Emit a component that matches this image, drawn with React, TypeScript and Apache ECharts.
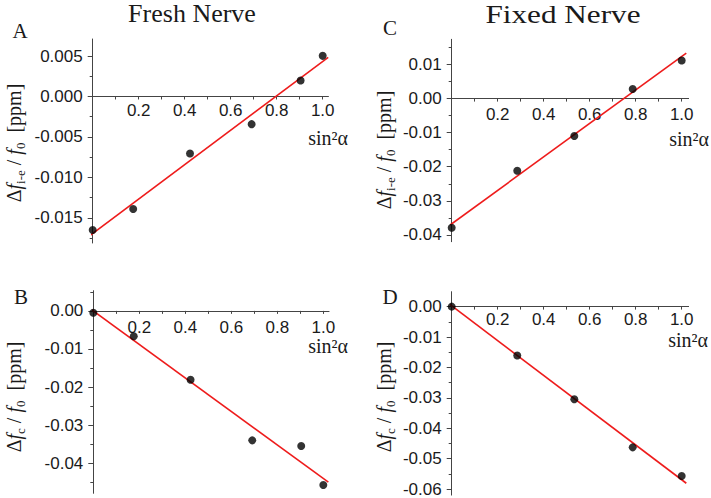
import React, { useEffect, useRef } from "react";
import * as echarts from "echarts";

// ---- data ----
const xFresh = [0, 0.176, 0.423, 0.691, 0.904, 1.0];
const yFreshIE = [-0.0165, -0.0139, -0.00704, -0.00342, 0.00198, 0.00502];
const yFreshC = [-0.0005, -0.00665, -0.0181, -0.034, -0.0355, -0.0457];
const xFixed = [0, 0.285, 0.533, 0.787, 1.0];
const yFixedIE = [-0.0379, -0.0212, -0.011, 0.0028, 0.0112];
const yFixedC = [0, -0.0161, -0.0305, -0.0463, -0.0557];

// fitted straight lines (end points)
const fitFreshIE = [[-0.023, -0.0174], [1.024, 0.00484]];
const fitFreshC = [[-0.026, 0.00114], [1.022, -0.04497]];
const fitFixedIE = [[-0.007, -0.0371], [1.02, 0.01335]];
const fitFixedC = [[-0.015, 0.0011], [1.02, -0.0581]];

const xTickValues = [0.1, 0.2, 0.3, 0.4, 0.5, 0.6, 0.7, 0.8, 0.9, 1.0];
const xLabelValues = [0.2, 0.4, 0.6, 0.8, 1.0];

const titles = ["Fresh Nerve", "Fixed Nerve"];
const letters = ["A", "B", "C", "D"];

const SERIF = "'Liberation Serif', 'Times New Roman', serif";
const SANS = "'Liberation Sans', Arial, sans-serif";

type Panel = {
  left: number; top: number; height: number; xMax: number;
  yMin: number; yMax: number; step: number; dec: number;
  xs: number[]; ys: number[]; fit: number[][]; xLabelMargin: number;
};

const panels: Panel[] = [
  { left: 92.7, top: 39, height: 204, xMax: 1.025, yMin: -0.0181, yMax: 0.0071, step: 0.005, dec: 3, xs: xFresh, ys: yFreshIE, fit: fitFreshIE, xLabelMargin: 6 },
  { left: 93.3, top: 290.7, height: 202.6, xMax: 1.025, yMin: -0.0479, yMax: 0.0053, step: 0.01, dec: 2, xs: xFresh, ys: yFreshC, fit: fitFreshC, xLabelMargin: 8 },
  { left: 451.7, top: 39.3, height: 202.4, xMax: 1.03, yMin: -0.042, yMax: 0.0174, step: 0.01, dec: 2, xs: xFixed, ys: yFixedIE, fit: fitFixedIE, xLabelMargin: 7.5 },
  { left: 451.7, top: 291.7, height: 203.4, xMax: 1.03, yMin: -0.062, yMax: 0.0049, step: 0.01, dec: 2, xs: xFixed, ys: yFixedC, fit: fitFixedC, xLabelMargin: 4.5 },
];

const AXIS_COLOR = "#444";

function ticks(min: number, max: number, step: number, offset: number) {
  const out: number[] = [];
  const k0 = Math.ceil((min - offset) / step - 1e-9);
  const k1 = Math.floor((max - offset) / step + 1e-9);
  for (let k = k0; k <= k1; k++) out.push(+(k * step + offset).toFixed(6));
  return out;
}

function buildOption() {
  const grid: any[] = [];
  const xAxis: any[] = [];
  const yAxis: any[] = [];
  const series: any[] = [];
  panels.forEach((p, i) => {
    const width = 230 * p.xMax;
    grid.push({ left: p.left, top: p.top, width, height: p.height, containLabel: false, outerBoundsMode: "none" });
    // x axis drawn where y = 0
    const zeroOffset = -(p.height * (0 - p.yMin)) / (p.yMax - p.yMin);
    xAxis.push({
      type: "value", gridIndex: i, min: 0, max: p.xMax, position: "bottom", offset: zeroOffset,
      axisLine: { show: true, onZero: false, lineStyle: { color: AXIS_COLOR, width: 1 } },
      axisTick: { show: true, customValues: xTickValues, length: 3, inside: false, lineStyle: { color: AXIS_COLOR } },
      axisLabel: { show: true, customValues: xLabelValues, margin: p.xLabelMargin, fontSize: 17, fontFamily: SANS, color: "#1a1a1a", formatter: (v: number) => v.toFixed(1) },
      splitLine: { show: false },
    });
    const majors = ticks(p.yMin, p.yMax, p.step, 0);
    const minors = ticks(p.yMin, p.yMax, p.step, p.step / 2);
    yAxis.push({
      type: "value", gridIndex: i, min: p.yMin, max: p.yMax, position: "left",
      axisLine: { show: true, onZero: false, lineStyle: { color: AXIS_COLOR, width: 1 } },
      axisTick: { show: true, customValues: majors, length: 5, inside: false, lineStyle: { color: AXIS_COLOR } },
      axisLabel: { show: true, customValues: majors, margin: 10, fontSize: 17, fontFamily: SANS, color: "#1a1a1a", formatter: (v: number) => v.toFixed(p.dec) },
      splitLine: { show: false },
    });
    // minor ticks: a right-side axis shifted onto the left edge, ticks pointing left
    yAxis.push({
      type: "value", gridIndex: i, min: p.yMin, max: p.yMax, position: "right", offset: -width,
      axisLine: { show: false, onZero: false },
      axisTick: { show: true, customValues: minors, length: 3, inside: true, lineStyle: { color: AXIS_COLOR } },
      axisLabel: { show: false },
      splitLine: { show: false },
    });
    series.push({
      type: "line", xAxisIndex: i, yAxisIndex: 2 * i, data: p.fit, clip: false,
      symbol: "none", lineStyle: { color: "#ee1c1c", width: 1.6 }, silent: true, z: 2,
    });
    series.push({
      type: "scatter", xAxisIndex: i, yAxisIndex: 2 * i, clip: false,
      data: p.xs.map((x, j) => [x, p.ys[j]]),
      symbol: "circle", symbolSize: 8, itemStyle: { color: "#000" }, z: 3,
    });
  });

  const rich = {
    n: { fontFamily: SERIF, fontSize: 20, lineHeight: 26, color: "#1a1a1a", verticalAlign: "middle" },
    it: { fontFamily: SERIF, fontSize: 20, fontStyle: "italic", lineHeight: 26, color: "#1a1a1a", verticalAlign: "middle" },
    s: { fontFamily: SERIF, fontSize: 13, lineHeight: 12, color: "#1a1a1a", verticalAlign: "bottom" },
  };
  const nameIE = "{n|Δ}{it|f}{s|i-e}{n| / }{it|f}{s|0}{n|  [ppm]}";
  const nameC = "{n|Δ}{it|f}{s|c}{n| / }{it|f}{s|0}{n|  [ppm]}";

  const txt = (text: string, x: number, y: number, size: number, align = "center", scaleX = 1) => ({
    type: "text", x, y, scaleX,
    style: { text, fontFamily: SERIF, fontSize: size, fill: "#1a1a1a", align, verticalAlign: "middle" },
  });
  const yName = (text: string, x: number, y: number) => ({
    type: "text", x, y, rotation: Math.PI / 2,
    style: { text, rich, align: "center", verticalAlign: "middle", fill: "#1a1a1a" },
  });

  const graphic = [
    txt(titles[0], 192, 13.5, 26),
    txt(titles[1], 563, 13.5, 26, "center", 1.2),
    txt(letters[0], 20, 31, 21),
    txt(letters[1], 21, 297, 21),
    txt(letters[2], 390, 27.5, 21),
    txt(letters[3], 390, 297, 21),
    yName(nameIE, 14, 143),
    yName(nameC, 14, 397),
    yName(nameIE, 384, 150),
    yName(nameC, 384, 397),
    txt("sin²α", 348, 137.5, 20, "right"),
    txt("sin²α", 348, 346, 20, "right"),
    txt("sin²α", 709, 139, 20, "right"),
    txt("sin²α", 708, 340, 20, "right"),
  ];

  return { animation: false, backgroundColor: "#fff", grid, xAxis, yAxis, series, graphic };
}

export default function App() {
  const ref = useRef<HTMLDivElement>(null);
  useEffect(() => {
    if (!ref.current) return;
    const chart = echarts.init(ref.current, null, { renderer: "svg" });
    chart.setOption(buildOption() as any);
    return () => chart.dispose();
  }, []);
  return <div ref={ref} style={{ position: "absolute", left: 0, top: 0, width: 711, height: 498 }} />;
}
